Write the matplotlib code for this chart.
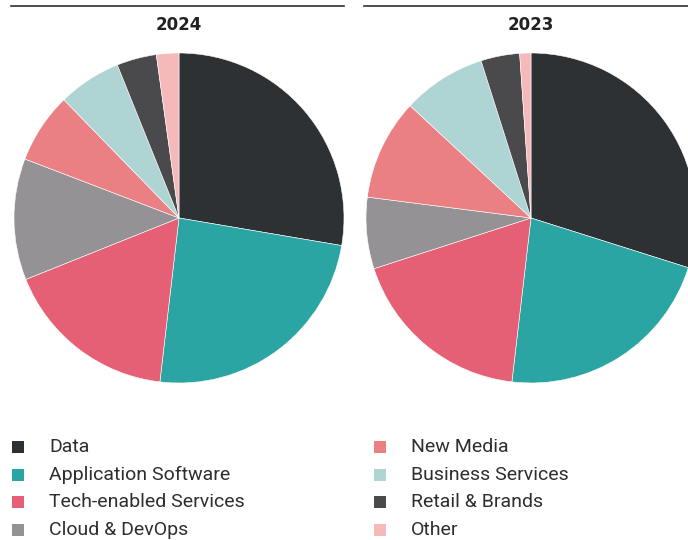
import matplotlib.pyplot as plt
from matplotlib.patches import Rectangle
from matplotlib.lines import Line2D

categories = ["Data", "Application Software", "Tech-enabled Services",
              "Cloud & DevOps", "New Media", "Business Services",
              "Retail & Brands", "Other"]
share_2024 = [27.7, 24.2, 17.1, 11.9, 6.9, 6.2, 3.9, 2.2]
share_2023 = [29.9, 22.0, 18.2, 7.0, 9.9, 8.2, 3.8, 1.1]
colors = ["#2e3134", "#2aa5a3", "#e56075", "#949295",
          "#ea8084", "#aed4d3", "#4a4a4c", "#f5b9b9"]

W, H = 688, 540
fig = plt.figure(figsize=(W / 100, H / 100), dpi=100)
fig.patch.set_facecolor("white")


def px_axes(cx, cy, r):
    # axes square around a pie centre given in pixels (top-left origin)
    return fig.add_axes([(cx - r) / W, (H - cy - r) / H, 2 * r / W, 2 * r / H])


def draw_pie(cx, values, title, x0, x1):
    ax = px_axes(cx, 218, 165)
    ax.pie(values, colors=colors, startangle=90, counterclock=False,
           radius=1, wedgeprops=dict(edgecolor="white", linewidth=0.4))
    ax.set_xlim(-1, 1)
    ax.set_ylim(-1, 1)
    ax.set_aspect("equal")
    ax.axis("off")
    fig.add_artist(Line2D([x0 / W, x1 / W], [1 - 6 / H, 1 - 6 / H],
                          color="#2e3134", linewidth=1.2))
    fig.text(cx / W, 1 - 25 / H, title, ha="center", va="center",
             fontsize=12, fontweight="bold", color="#222222",
             family="DejaVu Sans")


draw_pie(179, share_2024, "2024", 11, 344)
draw_pie(531, share_2023, "2023", 364, 688)

# legend, two columns of four
rows_y = [447, 475, 502, 530]
for i, (name, col) in enumerate(zip(categories, colors)):
    column = i // 4
    y = rows_y[i % 4]
    sq_x = 12 if column == 0 else 374
    tx = 49 if column == 0 else 411
    fig.add_artist(Rectangle((sq_x / W, (H - y - 6) / H), 12 / W, 12 / H,
                             transform=fig.transFigure, facecolor=col,
                             edgecolor="none"))
    fig.text(tx / W, 1 - y / H, name, ha="left", va="center",
             fontsize=14, color="#2e2e2e", family="Roboto")

fig.savefig("out.png", dpi=100)
